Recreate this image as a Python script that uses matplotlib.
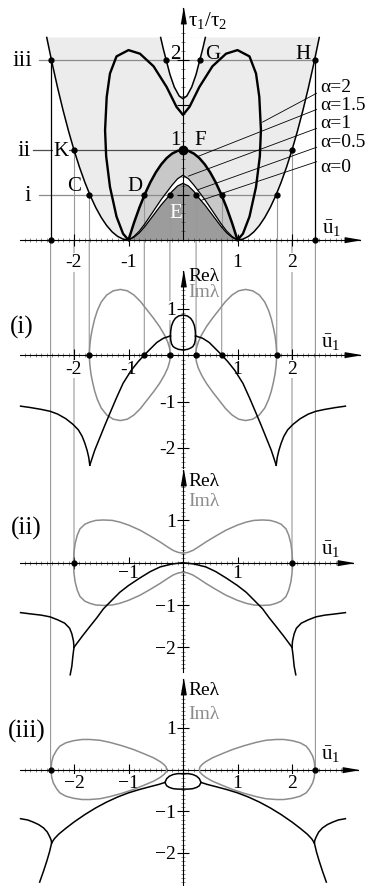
import numpy as np
import matplotlib
matplotlib.use('Agg')
import matplotlib.pyplot as plt
from matplotlib.patches import ConnectionPatch
from matplotlib.ticker import FixedLocator

plt.rcParams['font.family'] = ['Liberation Serif', 'DejaVu Serif']
plt.rcParams['mathtext.fontset'] = 'custom'
plt.rcParams['mathtext.rm'] = 'Liberation Serif'
plt.rcParams['mathtext.it'] = 'Liberation Serif:italic'
plt.rcParams['mathtext.default'] = 'regular'
plt.rcParams['axes.unicode_minus'] = False

# ---- top panel: tau1/tau2 versus u1 (left halves, mirrored below) ----
OUT_U = [-2.50, -2.40, -2.30, -2.20, -2.10, -2.00, -1.90, -1.80, -1.70, -1.60, -1.50, -1.40, -1.30, -1.20, -1.10, -1.00]
OUT_T = [2.25, 1.96, 1.69, 1.44, 1.21, 1.00, 0.81, 0.64, 0.49, 0.36, 0.25, 0.16, 0.09, 0.04, 0.01, 0.00]
DOME_U = [-1.0, -0.9, -0.8, -0.7, -0.6, -0.5, -0.4, -0.3, -0.2, -0.1, 0.0]
DOME_T = [0.00, 0.19, 0.36, 0.51, 0.64, 0.75, 0.84, 0.91, 0.96, 0.99, 1.00]
A1_T = [0.00, 0.04, 0.10, 0.18, 0.27, 0.36, 0.45, 0.53, 0.61, 0.68, 0.72]
A0_T = [0.00, 0.03, 0.08, 0.15, 0.23, 0.31, 0.39, 0.46, 0.54, 0.60, 0.63]
M_U = [-1.00, -1.10, -1.22, -1.34, -1.41, -1.43, -1.40, -1.34, -1.22, -1.00, -0.79, -0.54, -0.30, -0.12, 0.00]
M_T = [0.00, 0.07, 0.26, 0.59, 0.93, 1.22, 1.59, 1.85, 2.04, 2.11, 2.07, 1.93, 1.70, 1.48, 1.39]
NP_U = [-0.41, -0.36, -0.30, -0.24, -0.16, -0.07, 0.00]
NP_T = [2.25, 2.12, 1.98, 1.84, 1.70, 1.60, 1.57]

LEVELS = [0.5, 1.0, 2.0]
LEVEL_NAMES = ['i', 'ii', 'iii']
I_DOTS = [-1.72, -0.71, -0.24, 0.24, 0.71, 1.72]
II_DOTS = [-2.0, 0.0, 2.0]
III_DOTS = [-2.43, -0.32, 0.32, 2.43]

ALPHA_NAMES = ['α=2', 'α=1.5', 'α=1', 'α=0.5', 'α=0']
ALPHA_TXT_T = [1.70, 1.50, 1.30, 1.08, 0.81]
LEAD_T0 = [1.63, 1.45, 1.24, 1.03, 0.87]
LEAD_U1 = [1.46, 0.28, 0.10, 0.28, 0.33]
LEAD_T1 = [1.31, 0.93, 0.71, 0.56, 0.44]

# ---- panel (i) ----
IM1_U = [-1.72, -1.71, -1.69, -1.66, -1.62, -1.57, -1.50, -1.40, -1.28, -1.15, -1.02, -0.90, -0.78, -0.66, -0.54, -0.43, -0.34, -0.28, -0.245, -0.23]
IM1_V = [0.00, 0.20, 0.40, 0.58, 0.78, 0.96, 1.14, 1.29, 1.38, 1.41, 1.38, 1.29, 1.15, 0.97, 0.79, 0.61, 0.43, 0.28, 0.14, 0.00]
RE1A_U = [-2.98, -2.80, -2.60, -2.44, -2.30, -2.15, -2.02, -1.92, -1.85, -1.80, -1.76, -1.73, -1.71]
RE1A_V = [-1.10, -1.13, -1.17, -1.21, -1.27, -1.37, -1.49, -1.61, -1.75, -1.90, -2.05, -2.20, -2.37]
RE1B_U = [-1.71, -1.62, -1.52, -1.43, -1.34, -1.22, -1.10, -0.95, -0.82, -0.71, -0.60, -0.48, -0.36, -0.23]
RE1B_V = [-2.37, -2.05, -1.76, -1.50, -1.25, -0.92, -0.61, -0.33, -0.14, 0.00, 0.13, 0.27, 0.36, 0.41]
OV1_U = [-0.23, -0.225, -0.21, -0.18, -0.14, -0.08, 0.0]
OV1_TOP = [0.41, 0.52, 0.63, 0.72, 0.79, 0.84, 0.86]
OV1_BOT = [0.41, 0.32, 0.24, 0.18, 0.15, 0.12, 0.11]

# ---- panel (ii) ----
IM2_U = [-2.01, -2.00, -1.98, -1.94, -1.89, -1.80, -1.71, -1.60, -1.46, -1.30, -1.16, -1.00, -0.79, -0.60, -0.42, -0.28, -0.18, -0.08, 0.0]
IM2_V = [0.00, 0.25, 0.45, 0.65, 0.80, 0.91, 0.96, 1.00, 1.01, 1.00, 0.96, 0.89, 0.77, 0.63, 0.49, 0.37, 0.29, 0.24, 0.23]
RE2_U = [-2.00, -1.85, -1.71, -1.58, -1.46, -1.30, -1.16, -1.00, -0.79, -0.60, -0.42, -0.20, 0.00]
RE2_V = [-2.00, -1.74, -1.51, -1.30, -1.09, -0.88, -0.70, -0.54, -0.36, -0.21, -0.10, -0.03, 0.00]
RE2O_U = [-2.98, -2.80, -2.60, -2.44, -2.30, -2.17, -2.08, -2.04, -2.01, -2.00]
RE2O_V = [-1.18, -1.21, -1.24, -1.28, -1.35, -1.43, -1.55, -1.68, -1.85, -2.00]
RE2L_U = [-2.00, -2.02, -2.04, -2.07]
RE2L_V = [-2.00, -2.20, -2.45, -2.65]

# ---- panel (iii) ----
IM3_U = [-2.42, -2.41, -2.38, -2.32, -2.26, -2.15, -2.01, -1.85, -1.71, -1.52, -1.34, -1.12, -0.91, -0.72, -0.54, -0.42, -0.35, -0.31, -0.30]
IM3_V = [0.00, 0.18, 0.32, 0.46, 0.56, 0.64, 0.69, 0.72, 0.72, 0.70, 0.65, 0.57, 0.48, 0.38, 0.28, 0.19, 0.12, 0.06, 0.00]
RE3_U = [-0.33, -0.45, -0.60, -0.80, -1.00, -1.20, -1.40, -1.60, -1.80, -2.00, -2.15, -2.28, -2.36, -2.41]
RE3_V = [-0.31, -0.36, -0.41, -0.48, -0.56, -0.66, -0.78, -0.92, -1.08, -1.26, -1.41, -1.55, -1.66, -1.76]
OV3_U = [-0.33, -0.30, -0.25, -0.18, -0.10, 0.00]
OV3_TOP = [-0.31, -0.22, -0.16, -0.12, -0.10, -0.10]
OV3_BOT = [-0.31, -0.39, -0.43, -0.46, -0.47, -0.47]
RE3O_U = [-2.98, -2.85, -2.75, -2.65, -2.56, -2.49, -2.45, -2.42, -2.41]
RE3O_V = [-1.18, -1.21, -1.26, -1.32, -1.40, -1.50, -1.60, -1.69, -1.76]
RE3L_U = [-2.41, -2.45, -2.50, -2.56, -2.63]
RE3L_V = [-1.76, -1.98, -2.20, -2.44, -2.70]


def mirror(u, v):
    u = np.asarray(u, float)
    v = np.asarray(v, float)
    return np.r_[u, -u[::-1]], np.r_[v, v[::-1]]


def both(ax, u, v, **kw):
    u = np.asarray(u, float)
    ax.plot(u, v, **kw)
    ax.plot(-u, v, **kw)


def loop(u, v):
    u = np.asarray(u, float)
    v = np.asarray(v, float)
    return np.r_[u, u[::-1]], np.r_[v, -v[::-1]]


W, H = 372, 886
fig = plt.figure(figsize=(W / 100, H / 100), dpi=100)
U0, SU = 183.0, 54.5
ARROW_R = [(0, 0), (-1, 0.17), (-1, -0.17)]
ARROW_U = [(0, 0), (0.17, -1), (-0.17, -1)]
GREY = '0.55'
WHITE_BOX = dict(facecolor='white', edgecolor='none', pad=0.5)


def make_panel(name, zero, scale, xend, ybot, ytop, xt, xtl, yt, ytl, xpad):
    ax = fig.add_axes([0, 0, 1, 1], label=name)
    ax.set_zorder(2)
    ax.set_xlim(-U0 / SU, (W - U0) / SU)
    ax.set_ylim((zero - H) / scale, zero / scale)
    ax.patch.set_visible(False)
    ax.spines[['top', 'right']].set_visible(False)
    ax.spines['bottom'].set_position(('data', 0))
    ax.spines['left'].set_position(('data', 0))
    ax.spines['bottom'].set_bounds(-2.99, xend)
    ax.spines['left'].set_bounds(ybot, ytop)
    ax.xaxis.set_major_locator(FixedLocator(xt))
    ax.set_xticklabels(xtl)
    ax.yaxis.set_major_locator(FixedLocator(yt))
    ax.set_yticklabels(ytl)
    ax.xaxis.set_minor_locator(FixedLocator(np.arange(-2.9, xend - 0.25, 0.1)))
    ax.yaxis.set_minor_locator(FixedLocator(np.arange(np.ceil(ybot * 10) / 10, ytop - 0.2, 0.1)))
    ax.tick_params(which='major', direction='inout', length=8, width=0.8, labelsize=14)
    ax.tick_params(which='minor', direction='inout', length=2.5, width=0.4, color='0.2')
    ax.tick_params(axis='x', which='major', pad=xpad)
    ax.tick_params(axis='y', which='major', pad=1)
    for t in ax.get_xticklabels() + ax.get_yticklabels():
        t.set_bbox(WHITE_BOX)
    ax.plot([xend], [0], marker=ARROW_R, ms=22, color='k', clip_on=False, zorder=5)
    ax.plot([0], [ytop], marker=ARROW_U, ms=22, color='k', clip_on=False, zorder=5)
    return ax


ax0 = make_panel('top', 240, 90, 3.25, 0, 2.58, [-2, -1, 1, 2], ['-2', '-1', '1', '2'],
                 [0.5, 1, 1.5, 2], ['', '', '', ''], 6)
ax1 = make_panel('i', 355, 46.5, 3.25, -2.43, 1.80, [-2, -1, 1, 2], ['-2', '-1', '1', '2'],
                 [1, -1, -2], ['1', '-1', '-2'], 0)
ax2 = make_panel('ii', 562.7, 42.3, 3.12, -2.58, 2.19, [-2, -1, 1, 2], ['', '−1', '1', ''],
                 [1, -1, -2], ['1', '−1', '−2'], -2.5)
ax3 = make_panel('iii', 769.5, 41.7, 3.21, -2.80, 2.18, [-2, -1, 1, 2], ['−2', '−1', '1', '2'],
                 [1, -1, -2], ['1', '−1', '−2'], 0)

# ---- top panel fills ----
ou = np.asarray(OUT_U)
ot = np.asarray(OUT_T)
ax0.fill(np.r_[ou[::-1], -ou], np.r_[ot[::-1], ot], color='#ececec', lw=0, zorder=0.5)
ax0.fill(*mirror(NP_U, NP_T), color='white', lw=0, zorder=0.6)
ax0.fill(*mirror(DOME_U, DOME_T), color='#c8c8c8', lw=0, zorder=0.7)
ax0.fill(*mirror(DOME_U, A1_T), color='white', lw=0, zorder=0.8)
ax0.fill(*mirror(DOME_U, A0_T), color='#9c9c9c', lw=0, zorder=0.9)

# level lines i, ii, iii and the verticals dropping from their dots
ax0.plot([-2.65, I_DOTS[-1]], [LEVELS[0]] * 2, color=GREY, lw=0.9, zorder=1.2)
ax0.plot([-2.75, II_DOTS[-1]], [LEVELS[1]] * 2, color='0.3', lw=0.9, zorder=1.2)
ax0.plot([-2.65, III_DOTS[-1]], [LEVELS[2]] * 2, color=GREY, lw=0.9, zorder=1.2)
ax0.vlines(I_DOTS, 0, LEVELS[0], colors='0.6', lw=0.8, zorder=1.3)
ax0.vlines([II_DOTS[0], II_DOTS[-1]], 0, LEVELS[1], colors='0.6', lw=0.8, zorder=1.3)
ax0.vlines([III_DOTS[0], III_DOTS[-1]], 0, LEVELS[2], colors='k', lw=0.9, zorder=1.3)

for us, axk in ((I_DOTS, ax1), ([II_DOTS[0], II_DOTS[-1]], ax2), ([III_DOTS[0], III_DOTS[-1]], ax3)):
    for u in us:
        con = ConnectionPatch(xyA=(u, 0), coordsA=ax0.transData, xyB=(u, 0), coordsB=axk.transData,
                              color='0.6', lw=0.8, zorder=1)
        fig.add_artist(con)

# ---- top panel curves ----
both(ax0, OUT_U, OUT_T, color='k', lw=1.1, zorder=3)
ax0.plot(*mirror(M_U, M_T), color='k', lw=1.7, zorder=3)
ax0.plot(*mirror(NP_U, NP_T), color='k', lw=1.1, zorder=3)
ax0.plot(*mirror(DOME_U, DOME_T), color='k', lw=1.8, zorder=3)
ax0.plot(*mirror(DOME_U, A1_T), color='k', lw=0.9, zorder=3)
ax0.plot(*mirror(DOME_U, A0_T), color='k', lw=0.9, zorder=3)

ax0.plot(I_DOTS, [LEVELS[0]] * len(I_DOTS), 'o', color='k', ms=3.5, zorder=4)
ax0.plot(II_DOTS, [LEVELS[1]] * len(II_DOTS), 'o', color='k', ms=3.5, zorder=4)
ax0.plot([0], [LEVELS[1]], 'o', color='k', ms=6, zorder=4)
ax0.plot(III_DOTS, [LEVELS[2]] * len(III_DOTS), 'o', color='k', ms=3.5, zorder=4)
ax0.plot([III_DOTS[0], III_DOTS[-1]], [0, 0], 'o', color='k', ms=3.5, zorder=4)

for name, lev, du in zip(LEVEL_NAMES, LEVELS, [-2.85, -2.92, -2.95]):
    ax0.text(du, lev, name, fontsize=17, ha='center', va='center', zorder=4)

for name, tt, t0, u1, t1 in zip(ALPHA_NAMES, ALPHA_TXT_T, LEAD_T0, LEAD_U1, LEAD_T1):
    ax0.plot([2.45, u1], [t0, t1], color='k', lw=0.6, zorder=3.5)
    ax0.text(2.51, tt, name, fontsize=14, ha='left', va='center', bbox=WHITE_BOX, zorder=4)

ax0.text(-2.24, 0.98, 'K', fontsize=15, ha='center', va='center', bbox=WHITE_BOX, zorder=4)
ax0.text(-2.0, 0.59, 'C', fontsize=15, ha='center', va='center', zorder=4)
ax0.text(-0.88, 0.59, 'D', fontsize=15, ha='center', va='center', zorder=4)
ax0.text(-0.13, 0.30, 'E', fontsize=15, ha='center', va='center', color='white', zorder=4)
ax0.text(-0.04, 1.11, '1', fontsize=15, ha='right', va='center', zorder=4)
ax0.text(0.31, 1.11, 'F', fontsize=15, ha='center', va='center', zorder=4)
ax0.text(-0.04, 2.06, '2', fontsize=15, ha='right', va='center', zorder=4)
ax0.text(0.55, 2.06, 'G', fontsize=15, ha='center', va='center', zorder=4)
ax0.text(2.2, 2.06, 'H', fontsize=15, ha='center', va='center', zorder=4)
ax0.text(0.10, 2.44, r'$\tau_1/\tau_2$', fontsize=15, ha='left', va='center', zorder=4)
ax0.text(2.72, 0.13, r'$\bar{u}_1$', fontsize=15, ha='center', va='center', zorder=4)

# ---- panel (i) ----
lu, lv = loop(IM1_U, IM1_V)
ax1.plot(lu, lv, color=GREY, lw=1.1, zorder=3)
ax1.plot(-lu, lv, color=GREY, lw=1.1, zorder=3)
both(ax1, RE1A_U, RE1A_V, color='k', lw=1.1, zorder=3)
both(ax1, RE1B_U, RE1B_V, color='k', lw=1.1, zorder=3)
ax1.plot(*mirror(OV1_U, OV1_TOP), color='k', lw=1.1, zorder=3)
ax1.plot(*mirror(OV1_U, OV1_BOT), color='k', lw=1.1, zorder=3)
ax1.plot(I_DOTS, [0] * len(I_DOTS), 'o', color='k', ms=3.5, zorder=4)

# ---- panel (ii) ----
iu, iv = mirror(IM2_U, IM2_V)
ax2.plot(np.r_[iu, iu[::-1]], np.r_[iv, -iv[::-1]], color=GREY, lw=1.1, zorder=3)
ax2.plot(*mirror(RE2_U, RE2_V), color='k', lw=1.1, zorder=3)
both(ax2, RE2O_U, RE2O_V, color='k', lw=1.1, zorder=3)
both(ax2, RE2L_U, RE2L_V, color='k', lw=1.1, zorder=3)
ax2.plot([II_DOTS[0], II_DOTS[-1]], [0, 0], 'o', color='k', ms=3.5, zorder=4)

# ---- panel (iii) ----
lu, lv = loop(IM3_U, IM3_V)
ax3.plot(lu, lv, color=GREY, lw=1.1, zorder=3)
ax3.plot(-lu, lv, color=GREY, lw=1.1, zorder=3)
both(ax3, RE3_U, RE3_V, color='k', lw=1.1, zorder=3)
both(ax3, RE3O_U, RE3O_V, color='k', lw=1.1, zorder=3)
both(ax3, RE3L_U, RE3L_V, color='k', lw=1.1, zorder=3)
ax3.plot(*mirror(OV3_U, OV3_TOP), color='k', lw=1.1, zorder=3)
ax3.plot(*mirror(OV3_U, OV3_BOT), color='k', lw=1.1, zorder=3)
ax3.plot([III_DOTS[0], III_DOTS[-1]], [0, 0], 'o', color='k', ms=3.5, zorder=4)

for axk, re_t, im_t, nm, nm_u, nm_t, ub_t in ((ax1, 1.68, 1.35, '(i)', -2.95, 0.60, 0.26),
                                              (ax2, 1.91, 1.44, '(ii)', -2.88, 0.82, 0.30),
                                              (ax3, 1.89, 1.31, '(iii)', -2.86, 0.91, 0.35)):
    axk.text(0.09, re_t, 'Reλ', fontsize=14, ha='left', va='center', zorder=4)
    axk.text(0.09, im_t, 'Imλ', fontsize=14, ha='left', va='center', color=GREY, zorder=4)
    axk.text(nm_u, nm_t, nm, fontsize=18, ha='center', va='center', zorder=4)
    axk.text(2.70, ub_t, r'$\bar{u}_1$', fontsize=15, ha='center', va='center', zorder=4)

fig.savefig('out.png', dpi=100)
